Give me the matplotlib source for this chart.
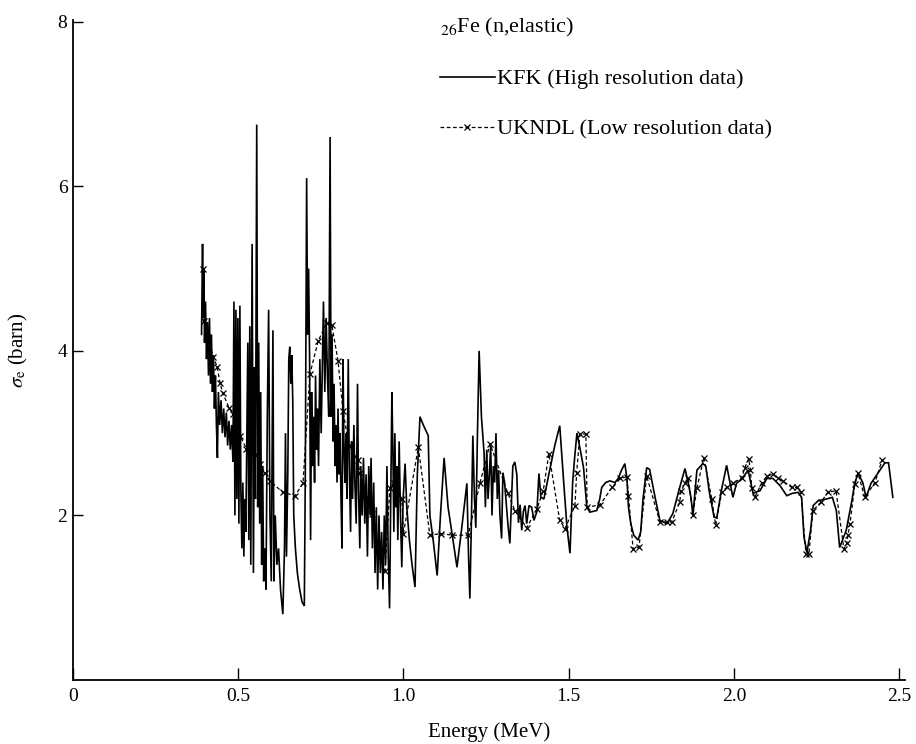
import matplotlib
matplotlib.use("Agg")
import matplotlib.pyplot as plt

plt.rcParams['font.family'] = ['Liberation Serif', 'DejaVu Serif']
plt.rcParams['mathtext.fontset'] = 'stix'

# KFK (alta resolução) - energia (MeV) e seção de choque (barn)
kfk_e = [0.389, 0.392, 0.394, 0.396, 0.398, 0.401, 0.404, 0.407, 0.410, 0.413,
         0.416, 0.419, 0.422, 0.425, 0.428, 0.431, 0.434, 0.437, 0.440, 0.444,
         0.448, 0.452, 0.456, 0.460, 0.464, 0.468, 0.472, 0.476, 0.480, 0.484,
         0.487, 0.490, 0.493, 0.496, 0.499, 0.502, 0.505, 0.508, 0.511, 0.514,
         0.517, 0.520, 0.523, 0.526, 0.529, 0.532, 0.535, 0.538, 0.542, 0.546,
         0.549, 0.552, 0.556, 0.559, 0.562, 0.565, 0.568, 0.571, 0.574, 0.577,
         0.580, 0.584, 0.588, 0.592, 0.596, 0.600, 0.605, 0.608, 0.612, 0.617,
         0.622, 0.628, 0.635, 0.640, 0.643, 0.646, 0.650, 0.653, 0.656, 0.659,
         0.662, 0.665, 0.668, 0.673, 0.679, 0.686, 0.693, 0.700, 0.703, 0.707,
         0.710, 0.713, 0.716, 0.719, 0.722, 0.725, 0.728, 0.731, 0.734, 0.737,
         0.740, 0.743, 0.747, 0.751, 0.758, 0.762, 0.766, 0.770, 0.774, 0.778,
         0.781, 0.784, 0.787, 0.790, 0.793, 0.796, 0.799, 0.802, 0.805, 0.808,
         0.811, 0.814, 0.817, 0.820, 0.823, 0.826, 0.829, 0.833, 0.836, 0.840,
         0.843, 0.846, 0.850, 0.853, 0.857, 0.861, 0.864, 0.868, 0.871, 0.875,
         0.879, 0.883, 0.887, 0.891, 0.895, 0.899, 0.902, 0.906, 0.910, 0.914,
         0.918, 0.922, 0.926, 0.930, 0.934, 0.938, 0.942, 0.946, 0.950, 0.954,
         0.958, 0.962, 0.965, 0.968, 0.971, 0.974, 0.977, 0.980, 0.983, 0.987,
         0.991, 0.995, 0.999, 1.005, 1.010, 1.018, 1.026, 1.035, 1.042, 1.050,
         1.060, 1.075, 1.080, 1.090, 1.102, 1.112, 1.123, 1.135, 1.150, 1.162,
         1.175, 1.192, 1.197, 1.201, 1.206, 1.210, 1.215, 1.219, 1.224, 1.229,
         1.236, 1.244, 1.248, 1.252, 1.256, 1.260, 1.264, 1.268, 1.272, 1.276,
         1.280, 1.284, 1.288, 1.292, 1.297, 1.301, 1.306, 1.310, 1.316, 1.322,
         1.327, 1.331, 1.337, 1.343, 1.348, 1.353, 1.358, 1.363, 1.368, 1.373,
         1.380, 1.388, 1.395, 1.404, 1.410, 1.416, 1.425, 1.440, 1.458, 1.473,
         1.485, 1.495, 1.504, 1.512, 1.518, 1.525, 1.535, 1.545, 1.555, 1.564,
         1.575, 1.585, 1.594, 1.600, 1.612, 1.625, 1.640, 1.650, 1.660, 1.670,
         1.676, 1.681, 1.688, 1.697, 1.710, 1.718, 1.725, 1.736, 1.745, 1.760,
         1.776, 1.797, 1.815, 1.836, 1.852, 1.864, 1.870, 1.876, 1.888, 1.906,
         1.915, 1.925, 1.940, 1.948, 1.962, 1.978, 1.988, 1.997, 2.008, 2.025,
         2.043, 2.058, 2.079, 2.100, 2.118, 2.140, 2.160, 2.178, 2.195, 2.205,
         2.212, 2.221, 2.232, 2.240, 2.255, 2.280, 2.298, 2.310, 2.320, 2.340,
         2.357, 2.366, 2.376, 2.390, 2.400, 2.415, 2.435, 2.457, 2.468, 2.481]
kfk_s = [4.20, 5.30, 4.40, 5.00, 4.10, 4.60, 3.90, 4.35, 3.70, 4.40,
         3.60, 4.20, 3.50, 3.95, 3.30, 3.70, 3.10, 2.70, 3.50, 3.10,
         3.40, 3.00, 3.30, 2.95, 3.25, 2.85, 3.15, 2.80, 3.10, 2.65,
         4.60, 2.00, 4.50, 2.20, 4.40, 1.90, 4.55, 2.30, 1.60, 2.40,
         1.50, 2.20, 1.80, 3.00, 4.10, 1.70, 4.30, 1.40, 5.30, 1.30,
         3.80, 2.20, 6.75, 2.10, 4.10, 1.90, 3.50, 1.40, 2.60, 1.20,
         1.60, 1.10, 3.20, 4.50, 2.00, 1.20, 4.25, 1.20, 2.00, 1.40,
         1.60, 1.10, 0.80, 1.60, 3.00, 1.50, 2.50, 3.90, 4.05, 3.60,
         3.95, 3.40, 2.00, 1.60, 1.30, 1.10, 0.95, 0.90, 2.50, 6.10,
         4.20, 5.00, 3.90, 1.70, 3.50, 2.60, 3.20, 2.40, 3.70, 2.80,
         3.30, 2.60, 3.90, 3.00, 4.60, 3.50, 4.40, 3.70, 3.20, 6.60,
         3.20, 4.20, 2.90, 3.60, 2.60, 3.10, 2.40, 3.30, 2.50, 3.00,
         2.20, 1.60, 3.90, 2.80, 2.40, 3.00, 2.20, 3.90, 2.60, 1.80,
         2.90, 2.20, 3.10, 2.40, 1.90, 3.60, 2.30, 1.60, 2.60, 2.00,
         2.70, 1.90, 2.50, 1.50, 2.60, 2.00, 2.70, 1.60, 2.40, 1.30,
         2.10, 1.10, 2.00, 1.30, 1.80, 1.10, 2.00, 1.40, 2.60, 1.50,
         0.87, 2.40, 3.50, 2.80, 1.80, 3.00, 2.10, 2.60, 1.70, 2.90,
         2.00, 1.37, 2.20, 2.63, 2.10, 1.70, 1.40, 1.13, 2.50, 3.20,
         3.10, 2.97, 2.00, 1.70, 1.27, 2.00, 2.70, 2.10, 1.70, 1.37,
         1.80, 2.39, 1.50, 0.99, 2.00, 2.97, 2.20, 1.85, 3.00, 4.00,
         3.20, 2.76, 2.10, 2.80, 2.20, 2.50, 2.85, 2.00, 2.60, 2.40,
         3.00, 2.20, 2.55, 2.00, 1.72, 2.52, 2.40, 2.20, 1.90, 1.66,
         2.20, 2.60, 2.65, 2.50, 1.91, 2.13, 1.82, 2.05, 2.12, 1.90,
         2.12, 2.10, 1.94, 2.05, 2.51, 2.22, 2.20, 2.50, 2.85, 3.09,
         2.40, 1.85, 1.54, 2.40, 2.70, 3.00, 2.80, 2.58, 2.10, 2.04,
         2.05, 2.06, 2.20, 2.34, 2.40, 2.42, 2.40, 2.45, 2.55, 2.63,
         2.46, 2.10, 1.90, 1.76, 1.70, 1.80, 2.20, 2.58, 2.56, 2.25,
         1.94, 1.90, 2.02, 2.34, 2.57, 2.35, 2.22, 2.00, 2.55, 2.63,
         2.60, 2.30, 1.98, 1.97, 2.30, 2.61, 2.40, 2.22, 2.39, 2.45,
         2.55, 2.27, 2.30, 2.45, 2.45, 2.36, 2.24, 2.27, 2.28, 2.22,
         1.74, 1.55, 1.82, 2.12, 2.18, 2.20, 2.22, 2.06, 1.61, 1.82,
         2.18, 2.40, 2.51, 2.40, 2.22, 2.39, 2.51, 2.64, 2.64, 2.22]

# UKNDL (baixa resolução)
ukndl_e = [0.393, 0.395, 0.424, 0.436, 0.445, 0.453, 0.472, 0.485, 0.505, 0.525,
           0.553, 0.566, 0.581, 0.596, 0.635, 0.672, 0.696, 0.717, 0.742, 0.768,
           0.783, 0.802, 0.817, 0.835, 0.862, 0.868, 0.893, 0.905, 0.929, 0.944,
           0.959, 0.971, 0.995, 1.000, 1.045, 1.080, 1.115, 1.146, 1.196, 1.232,
           1.262, 1.316, 1.337, 1.373, 1.404, 1.423, 1.440, 1.473, 1.489, 1.519,
           1.524, 1.534, 1.552, 1.556, 1.595, 1.631, 1.655, 1.676, 1.681, 1.695,
           1.713, 1.736, 1.776, 1.797, 1.812, 1.836, 1.840, 1.852, 1.862, 1.876,
           1.888, 1.909, 1.933, 1.945, 1.963, 1.978, 1.997, 2.024, 2.033, 2.045,
           2.050, 2.054, 2.063, 2.084, 2.100, 2.118, 2.133, 2.148, 2.175, 2.190,
           2.203, 2.218, 2.227, 2.239, 2.263, 2.284, 2.309, 2.333, 2.342, 2.345,
           2.351, 2.366, 2.376, 2.396, 2.427, 2.448]
ukndl_s = [4.99, 4.36, 3.93, 3.81, 3.61, 3.49, 3.31, 3.23, 2.97, 2.81,
           2.75, 2.63, 2.52, 2.42, 2.28, 2.24, 2.39, 3.72, 4.12, 4.34,
           4.32, 3.88, 3.27, 2.85, 2.67, 2.52, 2.21, 2.02, 1.49, 1.33,
           2.33, 2.40, 2.20, 1.78, 2.83, 1.76, 1.78, 1.76, 1.76, 2.40,
           2.87, 2.27, 2.06, 1.85, 2.08, 2.30, 2.75, 1.94, 1.84, 2.12,
           2.51, 2.99, 2.99, 2.10, 2.13, 2.34, 2.45, 2.47, 2.24, 1.59,
           1.62, 2.48, 1.92, 1.92, 1.92, 2.16, 2.30, 2.39, 2.45, 2.01,
           2.33, 2.70, 2.20, 1.88, 2.28, 2.34, 2.39, 2.46, 2.58, 2.69,
           2.55, 2.33, 2.22, 2.39, 2.48, 2.50, 2.46, 2.42, 2.34, 2.34,
           2.28, 1.53, 1.53, 2.06, 2.16, 2.28, 2.30, 1.59, 1.66, 1.76,
           1.89, 2.38, 2.51, 2.22, 2.40, 2.67]

x_ticks = [0, 0.5, 1.0, 1.5, 2.0, 2.5]
x_tick_labels = ['0', '0.5', '1.0', '1.5', '2.0', '2.5']
y_ticks = [2, 4, 6, 8]

fig = plt.figure(figsize=(9.16, 7.44), dpi=100)
ax = fig.add_axes([0.0797, 0.086, 0.908, 0.887])

linha_kfk, = ax.plot(kfk_e, kfk_s, color='black', lw=1.2, solid_joinstyle='miter')
linha_uk, = ax.plot(ukndl_e, ukndl_s, color='black', lw=0.9, ls=(0, (3, 2)),
                    marker='x', ms=5, mew=0.9)

ax.set_xlim(0, 2.517)
ax.set_ylim(0, 8.02)
ax.set_xticks(x_ticks)
ax.set_xticklabels(x_tick_labels)
ax.set_yticks(y_ticks)
ax.tick_params(axis='both', direction='in', labelsize=14, width=1.0)
ax.tick_params(axis='x', length=9, pad=6)
ax.tick_params(axis='y', length=7, pad=4)
for s in ['top', 'right']:
    ax.spines[s].set_visible(False)
for s in ['left', 'bottom']:
    ax.spines[s].set_linewidth(1.3)

ax.set_xlabel('Energy (MeV)', fontsize=15, labelpad=12)
ax.set_ylabel(r'$\sigma_{\rm e}$ (barn)', fontsize=15, labelpad=20)

ax.legend([linha_kfk, linha_uk],
          ['KFK (High resolution data)', 'UKNDL (Low resolution data)'],
          title=r'$_{26}$Fe (n,elastic)', title_fontsize=16, fontsize=16,
          loc='upper left', bbox_to_anchor=(0.43, 1.02), frameon=False,
          handlelength=2.5, handletextpad=0.1, labelspacing=1.35,
          numpoints=1, alignment='left', borderaxespad=0)

fig.savefig('out.png', dpi=100)
